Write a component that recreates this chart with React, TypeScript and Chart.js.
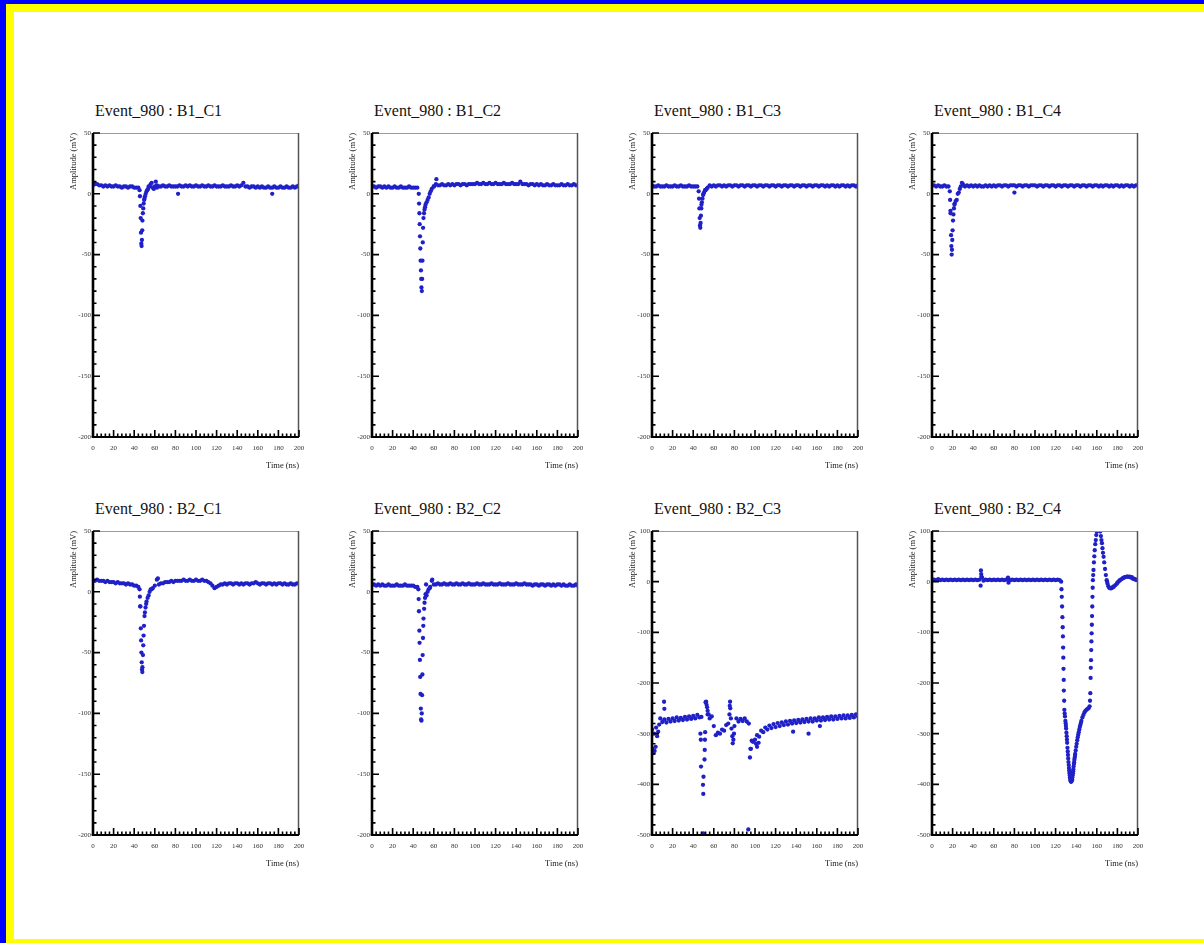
import React, { useEffect, useRef } from "react";
import { Chart, registerables } from "chart.js";

Chart.register(...registerables);

const FONT = '"Liberation Serif", "Times New Roman", serif';
const DOT_COLOR = "#2020c8";

// ---------- data ----------
const TIME_GRID = [0,2,4,6,8,10,12,14,16,18,20,22,24,26,28,30,32,34,36,38,40,42,44,46,48,50,52,54,56,58,60,62,64,66,68,70,72,74,76,78,80,82,84,86,88,90,92,94,96,98,100,102,104,106,108,110,112,114,116,118,120,122,124,126,128,130,132,134,136,138,140,142,144,146,148,150,152,154,156,158,160,162,164,166,168,170,172,174,176,178,180,182,184,186,188,190,192,194,196,198,200];

const X_RANGE = [0, 200];
const X_MAJOR = 20;
const X_MINOR = 4;
const Y_RANGE_SMALL = [-200, 50];
const Y_MAJOR_SMALL = 50;
const Y_MINOR_SMALL = 10;
const Y_RANGE_WIDE = [-500, 100];
const Y_MAJOR_WIDE = 100;
const Y_MINOR_WIDE = 20;

const TITLES = [
  "Event_980 : B1_C1", "Event_980 : B1_C2", "Event_980 : B1_C3", "Event_980 : B1_C4",
  "Event_980 : B2_C1", "Event_980 : B2_C2", "Event_980 : B2_C3", "Event_980 : B2_C4",
];
const X_TITLE = "Time (ns)";
const Y_TITLE = "Amplitude (mV)";

const B1C1_GRID = [
  7, 8, 8, 7, 7, 6, 7, 6, 7, 6,
  6, 7, 6, 6, 5, 6, 6, 5, 6, 6,
  5, 5, 5, -10, -22, -4, 2, 6, 8, 5,
  6, 7, 6, 6, 7, 6, 6, 7, 6, 6,
  6, 6, 7, 6, 6, 7, 6, 7, 6, 6,
  7, 6, 6, 7, 6, 6, 7, 6, 6, 7,
  6, 6, 6, 7, 6, 6, 6, 7, 6, 6,
  7, 6, 7, 9, 6, 6, 5, 6, 6, 5,
  6, 5, 6, 5, 5, 6, 5, 5, 6, 5,
  5, 6, 5, 5, 6, 5, 5, 6, 5, 6,
  7,
];
const B1C1_EXTRA_T = [45.2, 45.6, 46.3, 46.6, 46.9, 47.2, 47.5, 47.8, 48.4, 48.8, 49.2, 49.6, 50.5, 51.2, 52.6, 53.5, 55, 57, 59, 61, 62, 82.6, 174];
const B1C1_EXTRA_V = [3, -2, -20, -32, -41, -43, -38, -30, -16, -12, -8, -5, -2, 0, 3, 4, 6, 9, 4, 10, 5, 0, 0];

const B1C2_GRID = [
  6, 6, 5, 6, 6, 5, 6, 5, 6, 5,
  5, 6, 5, 5, 6, 5, 5, 5, 6, 5,
  5, 5, 5, -16, -77, -20, -9, -5, 0, 4,
  6, 8, 7, 7, 8, 7, 7, 8, 7, 8,
  7, 8, 8, 7, 8, 8, 7, 8, 8, 8,
  8, 9, 8, 8, 9, 8, 8, 9, 8, 8,
  9, 8, 8, 8, 9, 8, 8, 8, 9, 8,
  8, 8, 10, 8, 8, 8, 7, 8, 8, 7,
  8, 7, 8, 7, 7, 8, 7, 7, 8, 7,
  7, 7, 8, 7, 7, 8, 7, 7, 8, 7,
  7,
];
const B1C2_EXTRA_T = [45.4, 45.7, 46.3, 46.6, 46.9, 47.2, 47.5, 47.8, 48.4, 48.7, 49.0, 49.3, 49.6, 50.5, 51, 51.5, 53, 55, 57, 60, 62.5];
const B1C2_EXTRA_V = [0, -8, -25, -35, -45, -55, -63, -70, -80, -70, -55, -40, -28, -16, -13, -11, -7, -3, 2, 6, 12];

const B1C3_GRID = [
  7, 6, 6, 7, 6, 6, 6, 7, 6, 6,
  6, 7, 6, 6, 7, 6, 6, 6, 7, 6,
  6, 6, 6, -12, -9, 0, 3, 5, 7, 6,
  7, 6, 7, 7, 6, 7, 6, 7, 7, 6,
  7, 7, 6, 7, 7, 6, 7, 7, 6, 7,
  7, 6, 7, 7, 6, 7, 7, 6, 7, 7,
  6, 7, 7, 6, 7, 7, 6, 7, 7, 6,
  7, 7, 6, 7, 7, 6, 7, 7, 6, 7,
  7, 6, 7, 7, 6, 7, 6, 7, 7, 6,
  7, 6, 7, 7, 6, 7, 6, 7, 7, 6,
  7,
];
const B1C3_EXTRA_T = [45.3, 45.7, 46.3, 46.6, 46.9, 47.2, 47.5, 47.9, 48.4, 49, 49.6, 50.5, 51.5, 53];
const B1C3_EXTRA_V = [2, -4, -20, -26, -28, -24, -18, -12, -7, -4, -1, 1, 3, 4];

const B1C4_GRID = [
  7, 7, 6, 7, 6, 6, 7, 6, 6, -16,
  -30, -8, -5, 1, 6, 8, 6, 7, 6, 7,
  6, 7, 6, 7, 6, 6, 7, 6, 7, 6,
  7, 6, 7, 7, 6, 7, 7, 6, 7, 7,
  7, 6, 7, 7, 6, 7, 7, 6, 7, 7,
  7, 6, 7, 7, 6, 7, 7, 6, 7, 7,
  6, 7, 7, 6, 7, 7, 6, 7, 7, 6,
  7, 7, 6, 7, 7, 6, 7, 7, 6, 7,
  7, 6, 7, 6, 7, 7, 6, 7, 6, 7,
  7, 6, 7, 6, 7, 7, 6, 7, 6, 7,
  7,
];
const B1C4_EXTRA_T = [17.3, 17.6, 17.9, 18.5, 18.8, 19.1, 19.4, 19.7, 20.4, 20.8, 21.3, 21.8, 23, 25, 27, 29, 80];
const B1C4_EXTRA_V = [2, -5, -14, -34, -43, -50, -46, -38, -22, -17, -12, -9, -6, 0, 4, 9, 1];

const B2C1_GRID = [
  9, 9, 10, 9, 9, 9, 8, 9, 8, 8,
  8, 7, 8, 7, 7, 7, 6, 7, 6, 6,
  5, 5, 4, -12, -62, -20, -8, -3, 2, 3,
  5, 10, 6, 7, 7, 8, 8, 8, 9, 8,
  9, 9, 9, 9, 10, 9, 9, 10, 9, 9,
  10, 9, 9, 10, 9, 9, 8, 7, 5, 3,
  4, 5, 6, 6, 7, 6, 7, 7, 6, 7,
  7, 6, 7, 6, 7, 7, 6, 7, 7, 8,
  7, 6, 7, 7, 6, 7, 7, 6, 7, 6,
  7, 7, 6, 7, 6, 6, 7, 6, 6, 7,
  7,
];
const B2C1_EXTRA_T = [45.2, 45.5, 45.8, 46.4, 46.7, 47.0, 47.3, 47.6, 47.9, 48.5, 48.8, 49.1, 49.5, 50.4, 51, 51.6, 53, 55, 57, 63];
const B2C1_EXTRA_V = [2, -4, -12, -30, -40, -50, -58, -64, -66, -52, -44, -36, -28, -17, -13, -10, -5, 0, 2, 11];

const B2C2_GRID = [
  6, 6, 5, 6, 5, 6, 5, 5, 6, 5,
  5, 5, 6, 5, 5, 5, 6, 5, 5, 5,
  5, 4, 4, -32, -106, -22, -2, 0, 3, 9,
  6, 6, 7, 6, 6, 7, 6, 6, 7, 6,
  6, 7, 6, 6, 7, 6, 6, 7, 6, 6,
  6, 7, 6, 6, 7, 6, 6, 6, 7, 6,
  6, 6, 7, 6, 6, 6, 7, 6, 6, 6,
  7, 6, 6, 6, 7, 6, 6, 6, 5, 6,
  6, 5, 6, 6, 5, 6, 6, 5, 6, 5,
  6, 6, 5, 6, 5, 5, 6, 5, 5, 6,
  5,
];
const B2C2_EXTRA_T = [45.0, 45.3, 45.6, 46.2, 46.5, 46.8, 47.1, 47.4, 47.7, 48.3, 48.6, 48.9, 49.2, 49.5, 49.8, 50.6, 51.0, 51.5, 52.5, 53, 55, 56.5, 58.5];
const B2C2_EXTRA_V = [2, -6, -16, -42, -56, -70, -84, -96, -105, -100, -85, -68, -52, -38, -28, -14, -9, -5, 6, -3, 2, 4, 10];

const B2C3_GRID = [
  -292, -300, -288, -296, -270, -277, -272, -278, -271, -276,
  -270, -275, -268, -274, -269, -273, -267, -272, -266, -271,
  -265, -270, -263, -268, -267, -385, -238, -262, -270, -266,
  -285, -303, -298, -300, -292, -294, -283, -280, -250, -305,
  -285, -270, -276, -271, -275, -270, -276, -280, -330, -316,
  -312, -303, -306, -294, -297, -288, -292, -284, -289, -281,
  -287, -279, -285, -278, -283, -276, -282, -275, -280, -274,
  -279, -273, -278, -272, -277, -271, -276, -270, -276, -270,
  -274, -268, -274, -268, -273, -267, -272, -266, -272, -266,
  -271, -265, -270, -264, -270, -264, -269, -263, -268, -262,
  -266,
];
const B2C3_EXTRA_T = [0.5, 1.5, 2.5, 3.5, 5, 7, 11.7, 12.0, 47.0, 47.4, 47.6, 49.5, 49.8, 49.7, 51.0, 51.2, 51.4, 51.6, 52.6, 53.0, 53.5, 54.0, 55.0, 75.2, 75.5, 75.8, 76.6, 77.2, 78.4, 79.0, 79.6, 93.5, 95.1, 95.6, 96.8, 101, 102, 103.5, 137, 152, 163];
const B2C3_EXTRA_V = [-330, -338, -334, -326, -305, -282, -237, -251, -300, -312, -365, -401, -419, -497, -351, -332, -312, -297, -237, -243, -248, -255, -262, -262, -245, -237, -270, -290, -319, -312, -300, -489, -347, -330, -314, -320, -326, -318, -296, -300, -285];

const B2C4_GRID = [
  3, 4, 3, 5, 3, 4, 3, 4, 3, 4,
  3, 4, 3, 4, 3, 4, 3, 4, 3, 4,
  3, 4, 3, 4, 10, 2, 4, 3, 4, 3,
  4, 3, 4, 3, 4, 3, 4, 6, 3, 4,
  3, 4, 3, 4, 3, 4, 3, 4, 3, 4,
  3, 4, 3, 4, 3, 4, 3, 4, 3, 4,
  3, 4, 3, -30, -215, -285, -342, -386, -390, -357,
  -326, -302, -283, -268, -258, -253, -250, -190, -12, 62,
  99, 125, 90, 57, 25, 0, -12, -13, -10, -7,
  -2, 2, 5, 7, 9, 10, 10, 9, 6, 4,
  3,
];
const B2C4_EXTRA_T = [47.2, 47.5, 47.8, 48.5, 73.8, 74.3,
  125.4, 125.7, 126.3, 126.6, 126.9, 127.1, 127.3, 127.5, 127.7, 127.9,
  128.3, 128.5, 128.8, 129.1, 129.5, 130.5, 131, 131.5, 132.5, 133,
  133.5, 134.5, 135, 135.5, 136.5, 137, 137.5, 138.5, 139, 139.5,
  141, 143, 145, 147, 149, 151, 153, 153.4, 153.7, 154.2,
  154.4, 154.6, 154.8, 155.0, 155.2, 155.4, 155.6, 155.8, 156.2, 156.5,
  156.8, 157.2, 157.6, 158.5, 159, 159.5, 160, 163.3, 164.5, 165,
  165.5, 166.6, 167.2, 168.8, 169.6, 170.4, 171.2, 173, 175, 176.5,
  179.5, 181, 182.5, 185.5, 187, 189, 191, 193, 195, 197, 199];
const B2C4_EXTRA_V = [-8, 22, 15, 8, 8, -2,
  0, -15, -49, -70, -90, -108, -130, -150, -172, -194,
  -235, -253, -260, -266, -275, -298, -312, -328, -356, -368,
  -378, -392, -395, -394, -382, -374, -365, -348, -340, -333,
  -313, -292, -275, -263, -255, -251, -246, -235, -220, -170,
  -155, -135, -118, -102, -85, -68, -49, -30, 3, 13,
  23, 38, 50, 74, 82, 92, 99, 99, 82, 76,
  66, 49, 38, 13, 3, -4, -9, -13, -12, -10,
  -4, 0, 3, 7.5, 9, 10, 9.5, 8, 6, 4.5, 3];
const B2C4_TROUGH_T = [129.8, 130.2, 130.8, 131.2, 131.8, 132.2, 132.8, 133.2, 133.8, 134.2, 134.8, 135.8, 136.2, 136.8, 137.2, 137.8, 138.2, 138.8, 140.5, 141.5, 142.5, 143.5, 144.5];
const B2C4_TROUGH_V = [-280, -290, -305, -318, -335, -349, -362, -373, -382, -389, -394, -392, -386, -378, -370, -360, -352, -344, -320, -307, -297, -287, -279];

// ---------- layout ----------
const PLOT_LEFTS = [93, 372, 652, 932];
const PLOT_TOPS = [133, 531];
const PLOT_W = 206;
const PLOT_H = 304;
const Y_AXIS_W = 40;
const X_AXIS_H = 40;
const PAD_T = 10;
const PAD_R = 14;

type PanelDef = {
  title: string;
  grid: number[];
  extraT: number[][];
  extraV: number[][];
  yRange: number[];
  yMajor: number;
  yMinor: number;
};

const PANELS: PanelDef[] = [
  { title: TITLES[0], grid: B1C1_GRID, extraT: [B1C1_EXTRA_T], extraV: [B1C1_EXTRA_V], yRange: Y_RANGE_SMALL, yMajor: Y_MAJOR_SMALL, yMinor: Y_MINOR_SMALL },
  { title: TITLES[1], grid: B1C2_GRID, extraT: [B1C2_EXTRA_T], extraV: [B1C2_EXTRA_V], yRange: Y_RANGE_SMALL, yMajor: Y_MAJOR_SMALL, yMinor: Y_MINOR_SMALL },
  { title: TITLES[2], grid: B1C3_GRID, extraT: [B1C3_EXTRA_T], extraV: [B1C3_EXTRA_V], yRange: Y_RANGE_SMALL, yMajor: Y_MAJOR_SMALL, yMinor: Y_MINOR_SMALL },
  { title: TITLES[3], grid: B1C4_GRID, extraT: [B1C4_EXTRA_T], extraV: [B1C4_EXTRA_V], yRange: Y_RANGE_SMALL, yMajor: Y_MAJOR_SMALL, yMinor: Y_MINOR_SMALL },
  { title: TITLES[4], grid: B2C1_GRID, extraT: [B2C1_EXTRA_T], extraV: [B2C1_EXTRA_V], yRange: Y_RANGE_SMALL, yMajor: Y_MAJOR_SMALL, yMinor: Y_MINOR_SMALL },
  { title: TITLES[5], grid: B2C2_GRID, extraT: [B2C2_EXTRA_T], extraV: [B2C2_EXTRA_V], yRange: Y_RANGE_SMALL, yMajor: Y_MAJOR_SMALL, yMinor: Y_MINOR_SMALL },
  { title: TITLES[6], grid: B2C3_GRID, extraT: [B2C3_EXTRA_T], extraV: [B2C3_EXTRA_V], yRange: Y_RANGE_WIDE, yMajor: Y_MAJOR_WIDE, yMinor: Y_MINOR_WIDE },
  { title: TITLES[7], grid: B2C4_GRID, extraT: [B2C4_EXTRA_T, B2C4_TROUGH_T], extraV: [B2C4_EXTRA_V, B2C4_TROUGH_V], yRange: Y_RANGE_WIDE, yMajor: Y_MAJOR_WIDE, yMinor: Y_MINOR_WIDE },
];

// ROOT-style frame: thick left/bottom axes with inward ticks, thin top/right border
const rootAxes = {
  id: "rootAxes",
  afterDatasetsDraw(chart: any, _args: any, opts: any) {
    const { ctx, chartArea: a, scales } = chart;
    const x = scales.x;
    const y = scales.y;
    ctx.save();
    ctx.lineCap = "butt";
    ctx.strokeStyle = "#9a9a9a";
    ctx.lineWidth = 1;
    ctx.beginPath();
    ctx.moveTo(a.left, a.top + 0.5);
    ctx.lineTo(a.right, a.top + 0.5);
    ctx.stroke();
    ctx.strokeStyle = "#555";
    ctx.lineWidth = 1.5;
    ctx.beginPath();
    ctx.moveTo(a.right - 0.5, a.top);
    ctx.lineTo(a.right - 0.5, a.bottom);
    ctx.stroke();
    ctx.strokeStyle = "#000";
    ctx.lineWidth = 1.6;
    const nx = Math.round((x.max - x.min) / opts.xMinor);
    ctx.beginPath();
    for (let i = 0; i <= nx; i++) {
      const v = x.min + i * opts.xMinor;
      const major = Math.abs(v / opts.xMajor - Math.round(v / opts.xMajor)) < 1e-6;
      const px = x.getPixelForValue(v);
      const len = major ? 7 : 3.5;
      ctx.moveTo(px, a.bottom);
      ctx.lineTo(px, a.bottom - len);
    }
    const ny = Math.round((y.max - y.min) / opts.yMinor);
    for (let i = 0; i <= ny; i++) {
      const v = y.min + i * opts.yMinor;
      const major = Math.abs(v / opts.yMajor - Math.round(v / opts.yMajor)) < 1e-6;
      const py = y.getPixelForValue(v);
      const len = major ? 7 : 3.5;
      ctx.moveTo(a.left, py);
      ctx.lineTo(a.left + len, py);
    }
    ctx.stroke();
    ctx.lineWidth = 2.6;
    ctx.beginPath();
    ctx.moveTo(a.left, a.top);
    ctx.lineTo(a.left, a.bottom);
    ctx.stroke();
    ctx.lineWidth = 2.2;
    ctx.beginPath();
    ctx.moveTo(a.left - 1.3, a.bottom);
    ctx.lineTo(a.right, a.bottom);
    ctx.stroke();
    ctx.restore();
  },
};

function Panel({ def, left, top }: { def: PanelDef; left: number; top: number }) {
  const ref = useRef<HTMLCanvasElement | null>(null);
  const W = Y_AXIS_W + PLOT_W + PAD_R;
  const H = PAD_T + PLOT_H + X_AXIS_H;

  useEffect(() => {
    if (!ref.current) return;
    const pts: { x: number; y: number }[] = TIME_GRID.map((t, i) => ({ x: t, y: def.grid[i] }));
    def.extraT.forEach((ts, k) => {
      ts.forEach((t, i) => pts.push({ x: t, y: def.extraV[k][i] }));
    });
    const chart = new Chart(ref.current, {
      type: "scatter",
      data: {
        datasets: [
          {
            data: pts,
            backgroundColor: DOT_COLOR,
            borderColor: DOT_COLOR,
            borderWidth: 0,
            pointRadius: 2.15,
            pointHoverRadius: 2.15,
            showLine: false,
          },
        ],
      },
      options: {
        animation: false,
        responsive: false,
        maintainAspectRatio: false,
        events: [],
        layout: { padding: { left: 0, right: PAD_R, top: PAD_T, bottom: 0 } },
        plugins: {
          legend: { display: false },
          tooltip: { enabled: false },
          title: { display: false },
          rootAxes: { xMajor: X_MAJOR, xMinor: X_MINOR, yMajor: def.yMajor, yMinor: def.yMinor },
        } as any,
        scales: {
          x: {
            type: "linear",
            min: X_RANGE[0],
            max: X_RANGE[1],
            afterFit: (s: any) => { s.height = X_AXIS_H; },
            grid: { display: false, drawTicks: false },
            border: { display: false },
            ticks: {
              stepSize: X_MAJOR,
              autoSkip: false,
              maxRotation: 0,
              padding: 7,
              color: "#333",
              font: { family: FONT, size: 7 },
            },
            title: {
              display: true,
              text: X_TITLE,
              align: "end",
              color: "#222",
              font: { family: FONT, size: 8.5 },
              padding: { top: 0, bottom: 6 },
            },
          },
          y: {
            type: "linear",
            min: def.yRange[0],
            max: def.yRange[1],
            afterFit: (s: any) => { s.width = Y_AXIS_W; },
            grid: { display: false, drawTicks: false },
            border: { display: false },
            ticks: {
              stepSize: def.yMajor,
              autoSkip: false,
              padding: 2,
              color: "#333",
              font: { family: FONT, size: 7 },
            },
            title: {
              display: true,
              text: Y_TITLE,
              align: "end",
              color: "#222",
              font: { family: FONT, size: 8.5 },
              padding: { top: 16, bottom: 0 },
            },
          },
        },
      },
      plugins: [rootAxes as any],
    });
    return () => chart.destroy();
  }, [def]);

  return (
    <>
      <div
        style={{
          position: "absolute",
          left: left + 2,
          top: top - 31,
          fontFamily: FONT,
          fontSize: 16,
          lineHeight: "17px",
          color: "#111",
          whiteSpace: "pre",
        }}
      >
        {def.title}
      </div>
      <canvas
        ref={ref}
        width={W}
        height={H}
        style={{ position: "absolute", left: left - Y_AXIS_W, top: top - PAD_T, width: W, height: H, display: "block" }}
      />
    </>
  );
}

export default function App() {
  return (
    <div style={{ position: "absolute", left: 0, top: 0, width: 1204, height: 943, overflow: "hidden", background: "#0000ff" }}>
      <div style={{ position: "absolute", left: 6, top: 4, width: 1204, height: 943, background: "#ffff00" }} />
      <div style={{ position: "absolute", left: 14, top: 12, width: 1204, height: 927, background: "#ffffff" }} />
      {PANELS.map((def, i) => (
        <Panel key={i} def={def} left={PLOT_LEFTS[i % 4]} top={PLOT_TOPS[Math.floor(i / 4)]} />
      ))}
    </div>
  );
}
